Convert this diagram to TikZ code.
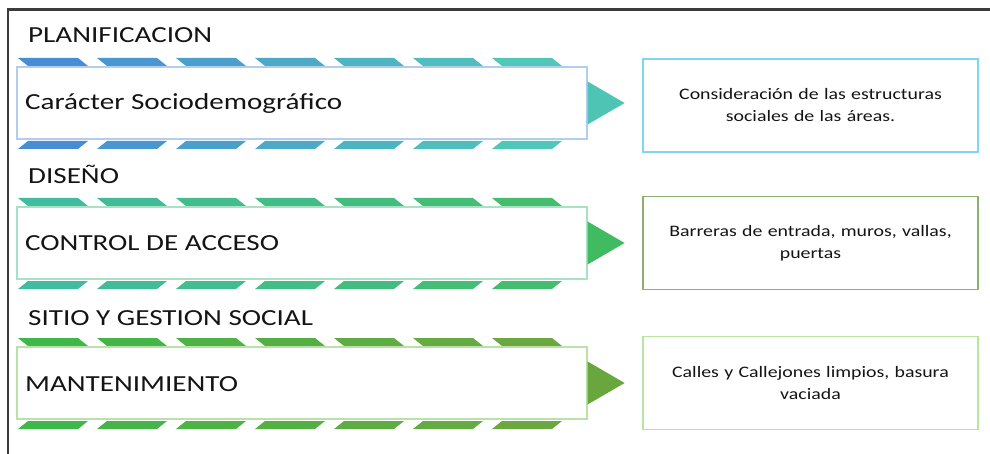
\documentclass[tikz,border=0pt]{standalone}
\usepackage{fontspec}
\setmainfont{Carlito}
\newfontfamily\cf[FakeStretch=1.24]{Carlito}
\newfontfamily\cfbig[FakeStretch=1.265]{Carlito}
\definecolor{rAa}{RGB}{72,140,212}\definecolor{rAb}{RGB}{80,200,185}
\definecolor{rBa}{RGB}{66,188,160}\definecolor{rBb}{RGB}{68,190,110}
\definecolor{rCa}{RGB}{62,184,72}\definecolor{rCb}{RGB}{108,168,64}
\definecolor{triA}{RGB}{78,196,180}\definecolor{triB}{RGB}{64,187,98}\definecolor{triC}{RGB}{106,166,62}
\definecolor{mainA}{RGB}{178,206,238}\definecolor{mainB}{RGB}{168,226,196}\definecolor{mainC}{RGB}{184,226,168}
\definecolor{sideA}{RGB}{128,214,242}\definecolor{sideB}{RGB}{140,176,110}\definecolor{sideC}{RGB}{184,230,160}
\definecolor{txt}{RGB}{20,20,20}
\definecolor{frame}{RGB}{60,60,60}
\begin{document}
\begin{tikzpicture}[x=1pt,y=-1pt,
  bigtext/.style={anchor=base west,inner sep=0pt,text=txt,font=\cfbig\fontsize{23}{27}\selectfont},
  mainbox/.style={draw=#1,line width=1.2pt,minimum width=570pt,minimum height=72pt,inner sep=0pt},
  sidebox/.style={draw=#1,line width=1.5pt,minimum width=335pt,minimum height=93pt,inner sep=0pt,
    align=center,text width=320pt,text=txt,font=\cf\fontsize{16}{22}\selectfont},
]
\useasboundingbox (0,0) rectangle (990,454);
% frame
\coordinate (fc) at (8,9.5);
\coordinate (fr) at (990,9.5);
\coordinate (fb) at (8,454);
\draw[frame,line width=2.5pt] (fr) -- (fc |- fr) -- (fb);

% stripes
\foreach \T/\B/\ca/\cb in {58/141/rAa/rAb, 198/281/rBa/rBb, 338/421/rCa/rCb}{
  \foreach \i in {0,...,6}{
    \pgfmathsetmacro\p{100-\i*100/6}
    \colorlet{sc}{\ca!\p!\cb}
    \fill[sc] (18+79*\i,\T) -- ++(60,0) -- ++(10,8) -- ++(-60,0) -- cycle;
    \fill[sc] (28+79*\i,\B) -- ++(60,0) -- ++(-10,8) -- ++(-60,0) -- cycle;
  }
}

% row 1
\node[bigtext] (h1) at (28,43) {PLANIFICACION};
\node[mainbox=mainA] (b1) at (302,103) {};
\node[bigtext] (t1) at (25,110) {Carácter Sociodemográfico};
\fill[triA] ([yshift=-21.5pt]b1.east) -- ([xshift=37pt]b1.east) -- ([yshift=21.5pt]b1.east) -- cycle;
\node[sidebox=sideA] (s1) at (810.5,105.5) {Consideración de las estructuras\\sociales de las áreas.};

% row 2
\node[bigtext] (h2) at (28,184) {DISEÑO};
\node[mainbox=mainB] (b2) at (302,243) {};
\node[bigtext] (t2) at (25,251) {CONTROL DE ACCESO};
\fill[triB] ([yshift=-21.5pt]b2.east) -- ([xshift=37pt]b2.east) -- ([yshift=21.5pt]b2.east) -- cycle;
\node[sidebox=sideB] (s2) at (810.5,243) {Barreras de entrada, muros, vallas,\\puertas};

% row 3
\node[bigtext] (h3) at (28,325) {SITIO Y GESTION SOCIAL};
\node[mainbox=mainC] (b3) at (302,383) {};
\node[bigtext] (t3) at (25,391) {MANTENIMIENTO};
\fill[triC] ([yshift=-21.5pt]b3.east) -- ([xshift=37pt]b3.east) -- ([yshift=21.5pt]b3.east) -- cycle;
\node[sidebox=sideC] (s3) at (810.5,383) {Calles y Callejones limpios, basura\\vaciada};
\end{tikzpicture}
\end{document}
